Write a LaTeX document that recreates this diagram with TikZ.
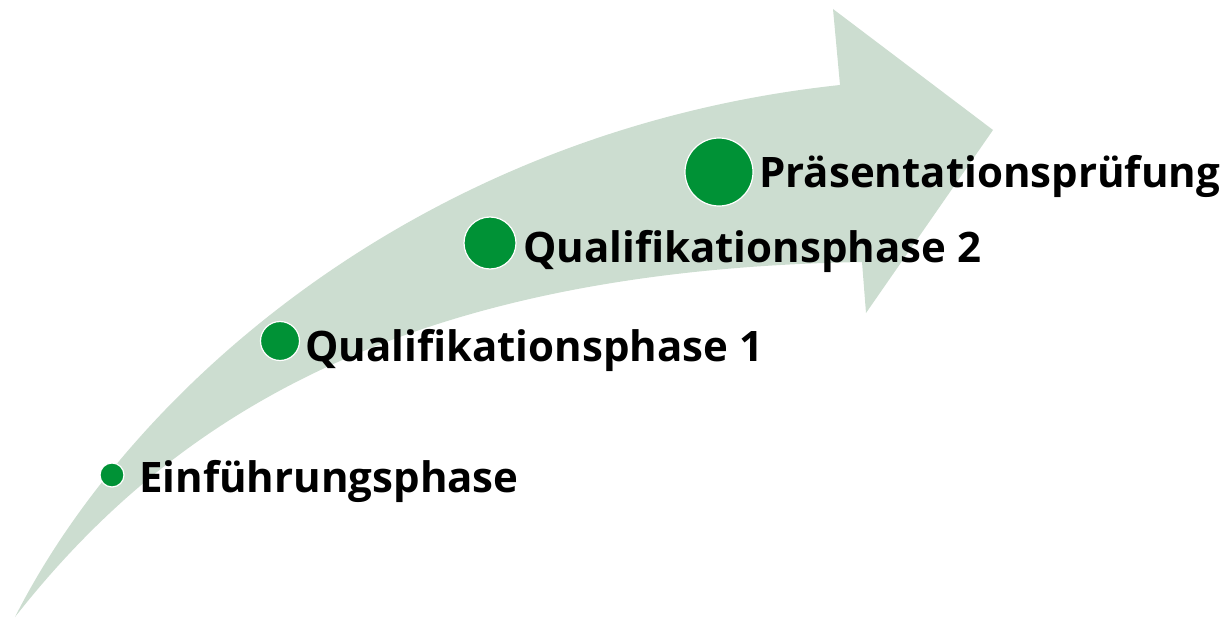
\documentclass[tikz,border=0pt]{standalone}
\usepackage{fontspec}
\setmainfont{Open Sans}
\definecolor{arrowgreen}{RGB}{204,221,208}
\definecolor{dotgreen}{RGB}{0,146,54}
\begin{document}
\begin{tikzpicture}[x=1pt,y=-1pt,
  dot/.style={circle,fill=dotgreen,draw=white,line width=1.2pt,inner sep=0pt},
  lbl/.style={anchor=base west,inner sep=0pt,font=\fontsize{42}{46}\selectfont\bfseries,text=black}]
\useasboundingbox (0,0) rectangle (1228,618);
% arrow
\fill[arrowgreen] (15,617) .. controls (130,390) and (420,130) .. (840,85)
  -- (833,9) -- (993,130) -- (866,313) -- (862,262)
  .. controls (400,270) and (170,420) .. (15,617) -- cycle;
% dots
\node[dot,minimum size=24pt] (d1) at (112,475) {};
\node[dot,minimum size=39pt] (d2) at (280,341) {};
\node[dot,minimum size=52pt] (d3) at (490,243) {};
\node[dot,minimum size=68pt] (d4) at (719,172) {};
% labels
\node[lbl] (t1) at (139,492) {Einführungsphase};
\node[lbl] (t2) at (305,361) {Qualifikationsphase 1};
\node[lbl] (t3) at (523,262) {Qualifikationsphase 2};
\node[lbl] (t4) at (759,187) {Präsentationsprüfung};
\end{tikzpicture}
\end{document}
